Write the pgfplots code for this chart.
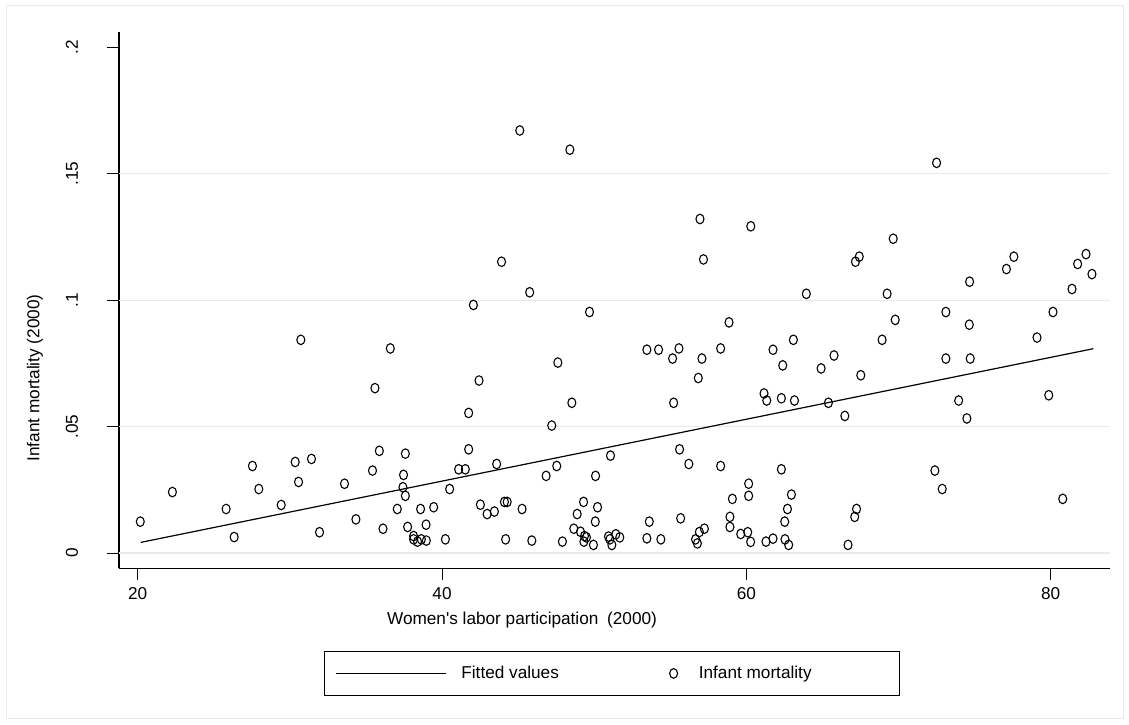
\documentclass[border=0pt]{standalone}
\usepackage{fontspec}
\setmainfont{Liberation Sans}
\newfontfamily\plainsans{Liberation Sans}
\usepackage{pgfplots}
\pgfplotsset{compat=1.18}
\definecolor{gridgray}{HTML}{EAEAEA}
\definecolor{framegray}{HTML}{EBEBEB}
\pgfplotsset{
  fitleg/.style={legend image code/.code={\draw[##1] (0bp,0bp) -- (55bp,0bp);}},
  markleg/.style={legend image code/.code={\draw[##1] plot coordinates {(0bp,0bp)};}},
}
\begin{document}
\begin{tikzpicture}[font=\fontsize{8.6bp}{10bp}\selectfont]
\useasboundingbox (0,0) rectangle (564.5bp,362.5bp);
\begin{axis}[
  scale only axis,
  width=495.5bp, height=268bp,
  at={(59.5bp,78.35bp)}, anchor=south west,
  xmin=18.771, xmax=83.897,
  ymin=-0.00605, ymax=0.20593,
  axis lines*=left,
  axis line style={black, line width=0.6bp},
  tick align=outside,
  major tick length=6bp,
  tick style={black, line width=0.5bp},
  xtick={20,40,60,80},
  xticklabels={20,40,60,80},
  ytick={0,0.05,0.1,0.15,0.2},
  yticklabels={0,.05,.1,.15,.2},
  extra y ticks={0,0.05,0.1,0.15},
  extra y tick labels={},
  extra y tick style={grid=major, major tick length=0pt},
  grid style={gridgray, line width=0.6bp},
  /pgf/number format/assume math mode=true,
  tick label style={font=\fontsize{8.6bp}{10bp}\selectfont},
  yticklabel style={rotate=90, anchor=south},
  yticklabel shift=11bp,
  xlabel={{\plainsans Women's labor participation\hspace{2bp} (2000)}},
  ylabel={Infant mortality (2000)},
  xlabel style={at={(axis description cs:0.4067,-0.0687)}, anchor=north, font=\fontsize{8.6bp}{10bp}\selectfont},
  ylabel style={at={(axis description cs:-0.0848,0.355)}, anchor=center, font=\fontsize{8.6bp}{10bp}\selectfont},
  legend columns=2,
  legend style={at={(0.4975,-0.1961)}, anchor=center, draw=black, line width=0.5bp,
    inner xsep=5.5bp, inner ysep=7bp, font=\fontsize{8.6bp}{10bp}\selectfont,
    nodes={inner sep=0bp},
    /tikz/every odd column/.append style={column sep=7.5bp},
    /tikz/every even column/.append style={column sep=0bp}},
]
\addplot[black, line width=0.6bp, fitleg]
  coordinates {(20.2,0.0042) (82.8,0.0808)};
\addlegendentry{\makebox[104.1bp][l]{Fitted values}}
\addplot[only marks, mark=o, mark size=2bp, black,
  mark options={yscale=1.2, line width=0.55bp}, markleg]
  coordinates {
(30.72,0.0843) (27.54,0.0344) (30.35,0.0360) (31.42,0.0372) (30.57,0.0281)
(33.59,0.0274) (27.96,0.0253) (22.28,0.0241) (25.81,0.0174) (29.43,0.0190)
(20.17,0.0124) (34.34,0.0133) (26.34,0.0063) (31.95,0.0082)
(45.76,0.1031) (42.06,0.0981) (49.69,0.0953) (36.60,0.0809) (47.61,0.0753)
(35.59,0.0652) (42.43,0.0682) (48.53,0.0594) (41.75,0.0554) (47.21,0.0504)
(35.88,0.0404) (37.59,0.0393) (41.75,0.0410) (35.43,0.0326) (37.47,0.0309)
(41.09,0.0331) (41.53,0.0331) (43.59,0.0352) (37.43,0.0260) (37.59,0.0226)
(40.50,0.0253) (46.84,0.0305) (47.54,0.0344) (50.09,0.0305) (51.07,0.0385)
(37.06,0.0174) (38.59,0.0174) (39.45,0.0181) (42.52,0.0191) (42.96,0.0154)
(43.44,0.0164) (44.10,0.0202) (44.28,0.0202) (45.26,0.0174) (36.12,0.0096)
(37.74,0.0103) (38.95,0.0112) (38.13,0.0067) (38.13,0.0054) (38.39,0.0045)
(38.64,0.0054) (38.97,0.0049) (40.22,0.0054) (44.18,0.0054) (45.90,0.0049)
(47.91,0.0045) (49.30,0.0202) (50.22,0.0181) (48.88,0.0154) (50.07,0.0124)
(48.66,0.0096) (49.10,0.0084) (49.36,0.0067) (49.49,0.0062) (49.32,0.0045)
(49.95,0.0032)
(50.94,0.0065) (51.03,0.0054) (51.16,0.0032) (51.42,0.0074) (51.68,0.0062)
(58.86,0.0912) (63.09,0.0843) (53.46,0.0804) (54.23,0.0804) (55.57,0.0809)
(55.15,0.0769) (57.08,0.0769) (58.31,0.0809) (61.75,0.0804) (62.39,0.0742)
(56.84,0.0692) (64.91,0.0730) (65.76,0.0781) (67.52,0.0703) (55.22,0.0594)
(61.16,0.0631) (61.34,0.0603) (62.30,0.0612) (63.16,0.0603) (65.39,0.0594)
(66.47,0.0542) (55.61,0.0410) (56.22,0.0352) (58.31,0.0344) (62.30,0.0331)
(60.15,0.0274) (60.15,0.0226) (59.08,0.0214) (62.96,0.0231) (62.70,0.0174)
(58.92,0.0143) (58.92,0.0103) (62.52,0.0124) (53.62,0.0124) (55.68,0.0137)
(53.46,0.0058) (54.38,0.0054) (57.24,0.0096) (56.91,0.0083) (56.66,0.0054)
(56.78,0.0038) (59.63,0.0075) (60.09,0.0082) (60.28,0.0044) (61.29,0.0045)
(61.75,0.0057) (62.54,0.0054) (62.78,0.0032) (66.68,0.0032) (67.12,0.0143)
(67.24,0.0174)
(69.78,0.0922) (73.11,0.0953) (74.65,0.0903) (80.15,0.0953) (68.92,0.0843)
(79.10,0.0852) (73.11,0.0769) (74.71,0.0769) (73.95,0.0603) (79.87,0.0624)
(74.49,0.0532) (72.39,0.0326) (72.87,0.0253) (80.79,0.0214)
(45.11,0.1671) (48.40,0.1595) (72.50,0.1543) (56.95,0.1321) (60.29,0.1292)
(69.65,0.1243) (43.91,0.1152) (57.18,0.1161) (67.17,0.1152) (67.42,0.1172)
(77.58,0.1172) (77.09,0.1123) (81.77,0.1143) (82.32,0.1182) (82.71,0.1103)
(74.67,0.1073) (81.40,0.1044) (63.94,0.1025) (69.25,0.1025)
  };
\addlegendentry{\makebox[98.1bp][l]{\hspace{3.1bp}Infant mortality}}
\end{axis}
\draw[framegray, line width=0.5bp] (3bp,3bp) rectangle (561.5bp,359.5bp);
\end{tikzpicture}
\end{document}
